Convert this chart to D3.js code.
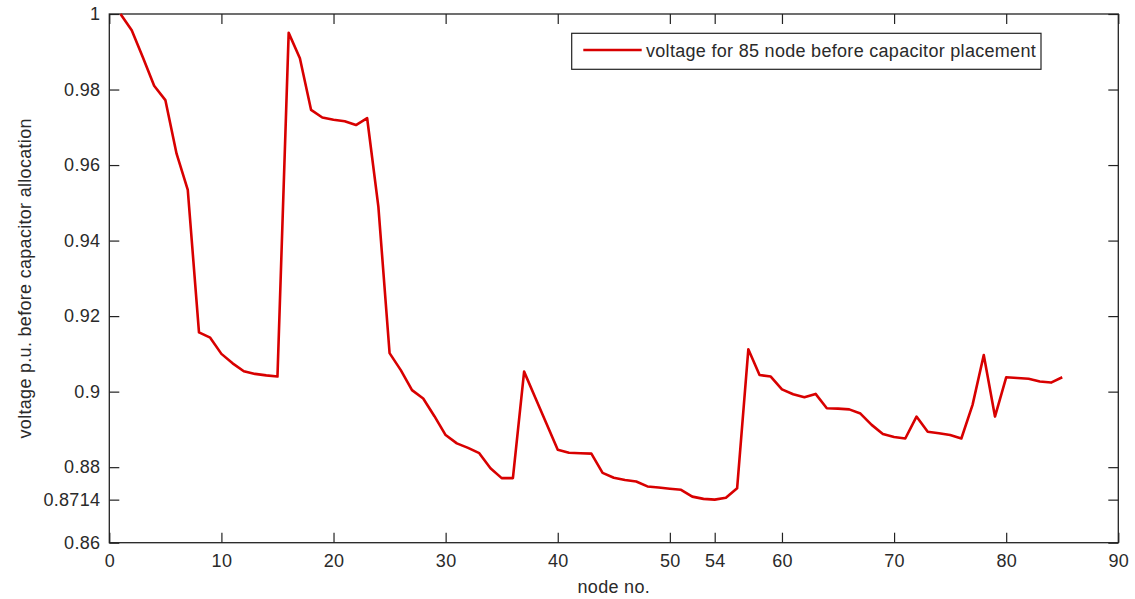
<!DOCTYPE html>
<html>
<head>
<meta charset="utf-8">
<script src="https://cdn.jsdelivr.net/npm/d3@7"></script>
<style>
  body { margin: 0; background: #fff; }
  svg { display: block; font-family: Arial, "Liberation Sans", sans-serif; }
  text { letter-spacing: 0.3px; }
  .axis text { font-size: 18px; fill: #2a2a2a; }
  .axis line { stroke: #222; stroke-width: 1.2; }
</style>
</head>
<body>
<div id="chart"></div>
<script>
// node numbers and bus voltages (p.u.)
var nodes = d3.range(1, 86);
var voltages = [
  1.0000, 0.9957, 0.9885, 0.9810, 0.9772, 0.9630, 0.9534, 0.9157, 0.9143, 0.9100,
  0.9075, 0.9054, 0.9047, 0.9043, 0.9040, 0.9950, 0.9883, 0.9746, 0.9726, 0.9720,
  0.9716, 0.9706, 0.9724, 0.9490, 0.9102, 0.9057, 0.9004, 0.8982, 0.8935, 0.8885,
  0.8863, 0.8851, 0.8837, 0.8797, 0.8771, 0.8771, 0.9053, 0.8984, 0.8915, 0.8846,
  0.8838, 0.8837, 0.8836, 0.8785, 0.8772, 0.8766, 0.8762, 0.8749, 0.8746, 0.8743,
  0.8740, 0.8722, 0.8716, 0.8714, 0.8719, 0.8744, 0.9112, 0.9044, 0.9040, 0.9006,
  0.8993, 0.8985, 0.8994, 0.8956, 0.8955, 0.8953, 0.8942, 0.8912, 0.8888, 0.8880,
  0.8876, 0.8934, 0.8894, 0.8890, 0.8885, 0.8876, 0.8965, 0.9097, 0.8934, 0.9038,
  0.9036, 0.9034, 0.9027, 0.9024, 0.9038
];

var xTicks = [0, 10, 20, 30, 40, 50, 54, 60, 70, 80, 90];
var yTicks = [0.86, 0.8714, 0.88, 0.9, 0.92, 0.94, 0.96, 0.98, 1];
var yTickLabels = ['0.86', '0.8714', '0.88', '0.9', '0.92', '0.94', '0.96', '0.98', '1'];

var seriesName = 'voltage for 85 node before capacitor placement';
var xTitle = 'node no.';
var yTitle = 'voltage p.u. before capacitor allocation';

var totalW = 1135, totalH = 599;
var margin = { top: 14, left: 109.3, right: 16.7, bottom: 56.3 };
var width = totalW - margin.left - margin.right;
var height = totalH - margin.top - margin.bottom;

var svg = d3.select('#chart').append('svg')
  .attr('width', totalW)
  .attr('height', totalH);

var g = svg.append('g')
  .attr('transform', 'translate(' + margin.left + ',' + margin.top + ')');

var x = d3.scaleLinear().domain([0, 90]).range([0, width]);
var y = d3.scaleLinear().domain([0.86, 1]).range([height, 0]);

// axes, ticks pointing inwards like matlab
var tick = 10;
g.append('g')
  .attr('class', 'axis')
  .attr('transform', 'translate(0,' + height + ')')
  .call(d3.axisBottom(x).tickValues(xTicks).tickSizeInner(-tick).tickSizeOuter(0).tickPadding(12)
    .tickFormat(d3.format('d')));

g.append('g')
  .attr('class', 'axis')
  .call(d3.axisLeft(y).tickValues(yTicks).tickSizeInner(-tick).tickSizeOuter(0).tickPadding(9)
    .tickFormat(function(d, i) { return yTickLabels[i]; }));

g.append('g')
  .attr('class', 'axis')
  .call(d3.axisTop(x).tickValues(xTicks).tickSizeInner(-tick).tickSizeOuter(0).tickFormat(''));

g.append('g')
  .attr('class', 'axis')
  .attr('transform', 'translate(' + width + ',0)')
  .call(d3.axisRight(y).tickValues(yTicks).tickSizeInner(-tick).tickSizeOuter(0).tickFormat(''));

g.selectAll('.axis .domain').remove();

g.append('rect')
  .attr('x', 0)
  .attr('y', 0)
  .attr('width', width)
  .attr('height', height)
  .attr('fill', 'none')
  .attr('stroke', '#222')
  .attr('stroke-width', 1.3);

// the voltage curve
var line = d3.line()
  .x(function(d, i) { return x(nodes[i]); })
  .y(function(d) { return y(d); });

g.append('path')
  .datum(voltages)
  .attr('d', line)
  .attr('fill', 'none')
  .attr('stroke', '#d80000')
  .attr('stroke-width', 2.6)
  .attr('stroke-linejoin', 'round');

// legend
var legend = g.append('g')
  .attr('transform', 'translate(' + (571.7 - margin.left) + ',' + (33.3 - margin.top) + ')');

legend.append('rect')
  .attr('width', 469.3)
  .attr('height', 36)
  .attr('fill', '#fff')
  .attr('stroke', '#222')
  .attr('stroke-width', 1.2);

legend.append('line')
  .attr('x1', 11.6)
  .attr('x2', 70)
  .attr('y1', 16.7)
  .attr('y2', 16.7)
  .attr('stroke', '#d80000')
  .attr('stroke-width', 2.6);

legend.append('text')
  .attr('x', 74.3)
  .attr('y', 23.7)
  .attr('fill', '#2a2a2a')
  .style('font-size', '18px')
  .text(seriesName);

// axis titles
svg.append('text')
  .attr('x', margin.left + width / 2)
  .attr('y', 593)
  .attr('text-anchor', 'middle')
  .attr('fill', '#2a2a2a')
  .style('font-size', '18px')
  .text(xTitle);

svg.append('text')
  .attr('transform', 'translate(31,' + (margin.top + height / 2) + ') rotate(-90)')
  .attr('text-anchor', 'middle')
  .attr('fill', '#2a2a2a')
  .style('font-size', '18px')
  .text(yTitle);
</script>
</body>
</html>
